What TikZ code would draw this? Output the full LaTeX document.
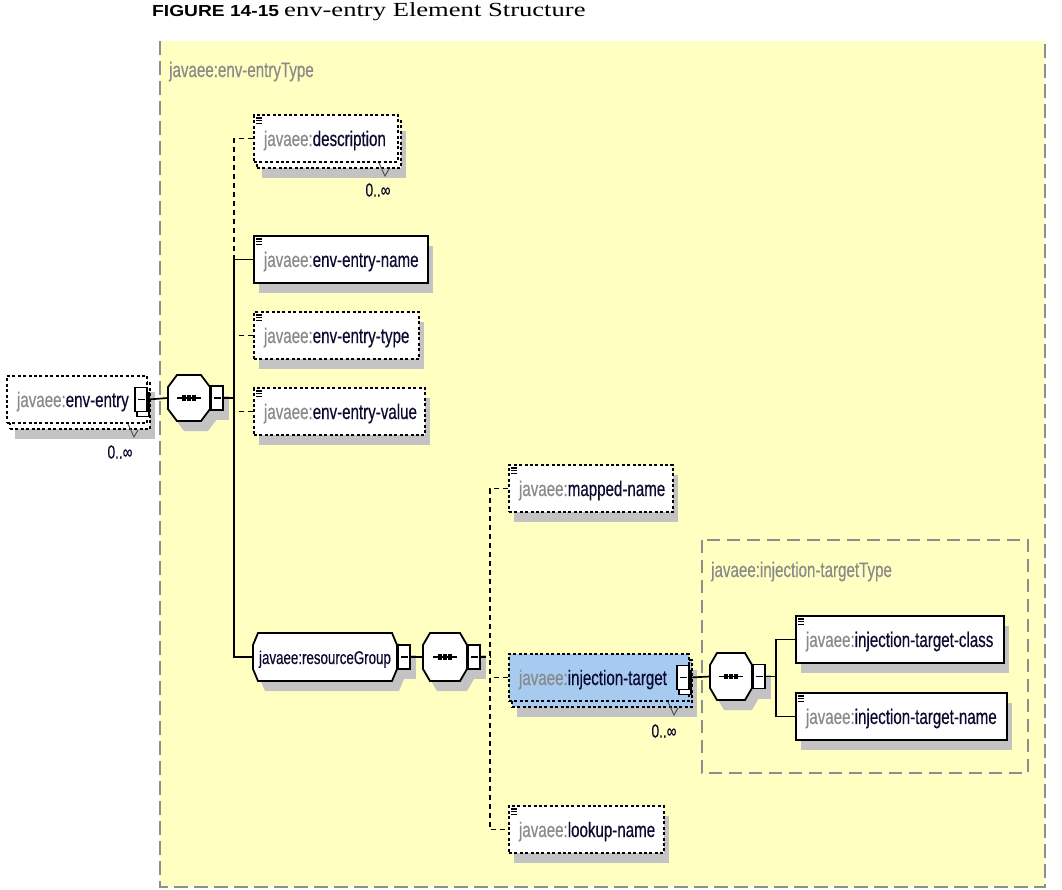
\documentclass[tikz,border=0pt]{standalone}
\usepackage{fontspec}
\usetikzlibrary{shadows,fit,calc}
\newfontfamily\nf{Liberation Sans}[FakeStretch=0.72,FakeBold=0.4]
\newfontfamily\tsans{Liberation Sans}[FakeStretch=1.2]
\newfontfamily\tserif{Liberation Serif}[FakeStretch=1.33]
\definecolor{ylw}{HTML}{FFFFC2}
\definecolor{shd}{HTML}{C3C3C3}
\definecolor{bordergray}{HTML}{8E8E8E}
\definecolor{jgray}{HTML}{8A8A8A}
\definecolor{jnavy}{HTML}{0A0A30}
\definecolor{selblue}{HTML}{A6CAF0}
\newcommand\jv[1]{\mbox{\textcolor{jgray}{javaee:}\textcolor{jnavy}{#1}}}
\tikzset{
  diag/.style={font=\nf\fontsize{21}{24}\selectfont},
  elbox/.style={diag, draw=black, fill=white, anchor=north west, minimum height=47pt,
    inner xsep=10pt, inner ysep=0pt, text height=19pt, text depth=4pt, text width=#1, align=left},
  solidbox/.style={line width=1.9pt},
  dashbox/.style={line width=2pt, dash pattern=on 3pt off 2.4pt},
  single/.style={general shadow={fill=shd, shadow xshift=5pt, shadow yshift=-10pt}},
  multi/.style={general shadow={fill=shd, shadow xshift=8pt, shadow yshift=-16pt},
    general shadow={fill=#1, draw=black, line width=2pt, dash pattern=on 3pt off 2.4pt,
      shadow xshift=3pt, shadow yshift=-6pt}},
  cbox/.style={draw=black, fill=white, line width=1.6pt, minimum width=12pt, minimum height=24pt,
    inner sep=0pt, path picture={\draw[line width=1.4pt] ([xshift=2.5pt]path picture bounding box.west)
      -- ([xshift=-2.5pt]path picture bounding box.east);}},
  cbcopy/.style={general shadow={fill=white, draw=black, line width=1.5pt, shadow xshift=2pt, shadow yshift=-5pt}},
  conn/.style={line width=1.7pt},
  dconn/.style={line width=1.7pt, dash pattern=on 5pt off 4pt},
  cardl/.style={font=\nf\fontsize{19}{20}\selectfont, text=jnavy, inner sep=0pt},
  tick/.style={line width=0.9pt, black!70},
}
\newcommand\octo[8]{%
  \fill[shd] (#2+#6+7,#3+10) -- (#4-#6+7,#3+10) -- (#4+7,#3+#7+10) -- (#4+7,#5-#7+10) -- (#4-#6+7,#5+10) -- (#2+#6+7,#5+10) -- (#2+7,#5-#7+10) -- (#2+7,#3+#7+10) -- cycle;
  \fill[shd] (#4+6,{(#3+#5)/2-2}) rectangle (#4+19,{(#3+#5)/2+22});
  \draw[line width=1.8pt, fill=white] (#2+#6,#3) -- (#4-#6,#3) -- (#4,#3+#7) -- (#4,#5-#7) -- (#4-#6,#5) -- (#2+#6,#5) -- (#2,#5-#7) -- (#2,#3+#7) -- cycle;
  \path (#2,#3) coordinate (#1nw) (#4,#5) coordinate (#1se);
  \node[fit=(#1nw)(#1se), inner sep=0pt, text height=18pt, text depth=4pt, text=jnavy, font=\nf\fontsize{18.5}{22}\selectfont] (#1) {#8};
  \node[cbox, anchor=west] (#1C) at (#1.east) {};
}
\newcommand\seqsym[1]{%
  \draw[line width=1.8pt] ([xshift=-12pt]#1.center) -- ([xshift=12pt]#1.center);
  \foreach \d in {-5,0,5} \fill ([xshift=\d pt]#1.center) +(-2,-2.8) rectangle +(2,2.8);
}
\newcommand\ico[1]{\draw[line width=1.1pt] ([xshift=3pt,yshift=-4pt]#1.north west) -- ++(6,0)
  ([xshift=3pt,yshift=-6.8pt]#1.north west) -- ++(6,0)
  ([xshift=3pt,yshift=-9.6pt]#1.north west) -- ++(6,0);}
\begin{document}
\begin{tikzpicture}[x=1pt,y=-1pt]
\useasboundingbox (0,0) rectangle (1062,889);
% title
\node[anchor=base west, inner sep=0pt, font=\tsans\bfseries\fontsize{16}{18}\selectfont] (t1) at (152,16) {FIGURE 14-15};
\node[anchor=base west, inner sep=0pt, font=\tserif\fontsize{20}{24}\selectfont] (t2) at (284,16) {env-entry Element Structure};
% background type box
\fill[ylw] (160,41) rectangle (1045,887);
\draw[bordergray, line width=1.8pt, dash pattern=on 14pt off 6pt] (160,41) -- (160,887) -- (1045,887) -- (1045,41);
\node[anchor=base west, inner sep=0pt, diag, text=jgray] (envT) at (169,77) {javaee:env-entryType};
% injection-targetType box
\draw[bordergray, line width=1.6pt, dash pattern=on 13pt off 7pt] (702,540) rectangle (1028,773);
\node[anchor=base west, inner sep=0pt, diag, text=jgray] (injT) at (711,577) {javaee:injection-targetType};

% env-entry
\node[elbox=120pt, dashbox, multi=white] (ee) at (6,375) {\jv{env-entry}};
\node[cbox, cbcopy, anchor=east] (eeC) at (ee.east) {};
\draw[tick] ([xshift=-20pt]ee.south east) -- ++(6,13) -- ++(4,-7);
\node[cardl] (ee0) at (120,452) {0..∞};

% first sequence
\octo{c1}{168}{375}{210}{421}{9}{12}{}
\seqsym{c1}

% children
\node[elbox=124pt, dashbox, multi=white] (desc) at (253,114) {\jv{description}};
\draw[tick] ([xshift=-20pt]desc.south east) -- ++(6,13) -- ++(4,-7);
\node[cardl] (desc0) at (378,190) {0..∞};
\node[elbox=154pt, solidbox, single] (name) at (253,235) {\jv{env-entry-name}};
\node[elbox=145pt, dashbox, single] (type) at (253,311) {\jv{env-entry-type}};
\node[elbox=151pt, dashbox, single] (value) at (253,387) {\jv{env-entry-value}};
\octo{rg}{253}{633}{397}{681}{5}{12}{javaee:resourceGroup}
\octo{c2}{423}{633}{467}{681}{7}{12}{}
\seqsym{c2}

\node[elbox=144pt, dashbox, single] (mapped) at (508,464) {\jv{mapped-name}};
\node[elbox=160pt, dashbox, multi=selblue, fill=selblue] (inj) at (508,653) {\jv{injection-target}};
\node[cbox, cbcopy, anchor=east] (injC) at (inj.east) {};
\draw[tick] ([xshift=-22pt]inj.south east) -- ++(6,13) -- ++(4,-7);
\node[cardl] (inj0) at (664,731) {0..∞};
\node[elbox=135pt, dashbox, single] (lookup) at (508,805) {\jv{lookup-name}};

\octo{c3}{710}{653}{752}{700}{7}{12}{}
\seqsym{c3}
\node[elbox=188pt, solidbox, single] (itc) at (795,615) {\jv{injection-target-class}};
\node[elbox=191pt, solidbox, single] (itn) at (795,692) {\jv{injection-target-name}};

\foreach \n in {desc,name,type,value,mapped,lookup,itc,itn} {\ico{\n}}

% connectors
\coordinate (b1) at (234,398);
\coordinate (b2) at (490,657);
\coordinate (b3) at (776,676.5);
\draw[conn] (eeC.east) -- (c1.west);
\draw[conn] (c1C.east) -- (b1);
\draw[dconn] (desc.west) -- (desc.west -| b1) -- (name.west -| b1);
\draw[conn] (name.west) -- (name.west -| b1) -- (rg.west -| b1) -- (rg.west);
\draw[dconn] (type.west) -- (type.west -| b1);
\draw[dconn] (value.west) -- (value.west -| b1);
\draw[conn] (rgC.east) -- (c2.west);
\draw[dconn] (c2C.east) -- (b2);
\draw[dconn] (mapped.west) -- (mapped.west -| b2) -- (lookup.west -| b2) -- (lookup.west);
\draw[dconn] (inj.west) -- (inj.west -| b2);
\draw[conn] (injC.east) -- (c3.west);
\draw[conn] (c3C.east) -- (b3);
\draw[conn] (itc.west) -- (itc.west -| b3) -- (itn.west -| b3) -- (itn.west);
\end{tikzpicture}
\end{document}
